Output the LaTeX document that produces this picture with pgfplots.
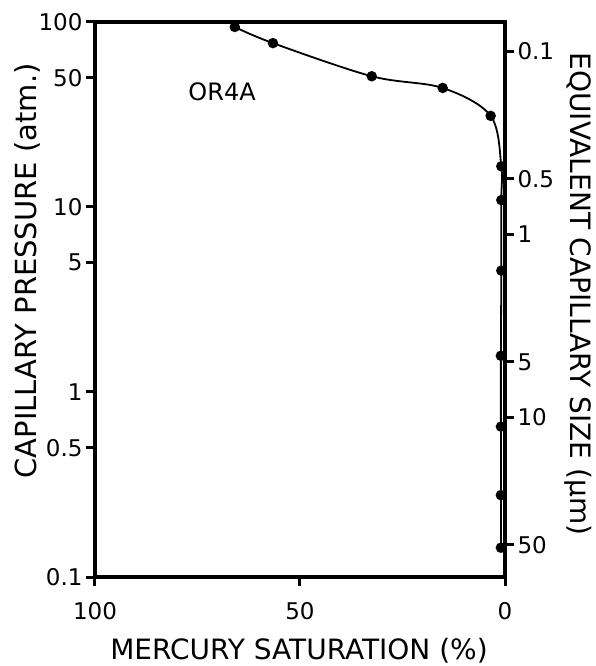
\documentclass[border=0pt]{standalone}
\usepackage{pgfplots}
\pgfplotsset{compat=1.18}
\usepackage{fontspec}
\setmainfont{DejaVu Sans}
\begin{document}
\begin{tikzpicture}
\useasboundingbox (-95pt,-89pt) rectangle (500pt,577pt);
\begin{axis}[
  at={(0pt,0pt)}, anchor=south west,
  scale only axis, width=410pt, height=555pt,
  x dir=reverse, xmin=0, xmax=100,
  ymode=log, ymin=0.1, ymax=100,
  xtick={0,50,100}, xticklabels={0,50,100},
  ytick={0.1,0.5,1,5,10,50,100}, yticklabels={0.1,0.5,1,5,10,50,100},
  yminorticks=false, xminorticks=false,
  tick pos=left, tick align=outside,
  major tick length=9pt,
  axis line style={line width=3.5pt},
  every tick/.style={line width=3pt, black},
  tick label style={font=\fontsize{23}{23}\selectfont},
  xticklabel style={yshift=-13pt},
  /pgf/number format/assume math mode=true,
]
\addplot[black, line width=1.8pt, smooth, tension=0.55, mark=*, mark size=4.3pt]
  coordinates {
    (65.9,94) (56.6,76.9) (32.5,50.9) (15.2,44.0) (3.5,31.1)
    (0.9,16.6) (0.9,10.9) (0.9,4.53) (1,1.57) (1,0.65) (1,0.277) (1,0.144)
  };
\draw[line width=3.5pt, line cap=rect] (rel axis cs:0,0) rectangle (rel axis cs:1,1);
\node[font=\fontsize{24}{24}\selectfont] at (axis cs:69,42) {OR4A};
\end{axis}
\begin{axis}[
  at={(0pt,0pt)}, anchor=south west,
  scale only axis, width=410pt, height=555pt,
  hide x axis, axis y line*=right, xmin=0, xmax=1,
  ymode=log, y dir=reverse, ymin=0.0694, ymax=74.8,
  ytick={0.1,0.5,1,5,10,50}, yticklabels={0.1,0.5,1,5,10,50},
  yminorticks=false,
  tick align=outside, major tick length=9pt,
  axis line style={line width=3.5pt},
  every tick/.style={line width=3pt, black},
  tick label style={font=\fontsize{23}{23}\selectfont},
  yticklabel style={anchor=west},
  /pgf/number format/assume math mode=true,
]
\end{axis}
\node[rotate=90, font=\fontsize{29}{29}\selectfont] at (-68pt,306pt) {CAPILLARY PRESSURE (atm.)};
\node[rotate=-90, font=\fontsize{28}{28}\selectfont] at (483pt,283pt) {EQUIVALENT CAPILLARY SIZE (µm)};
\node[font=\fontsize{28}{28}\selectfont] at (204pt,-74pt) {MERCURY SATURATION (\%)};
\end{tikzpicture}
\end{document}
